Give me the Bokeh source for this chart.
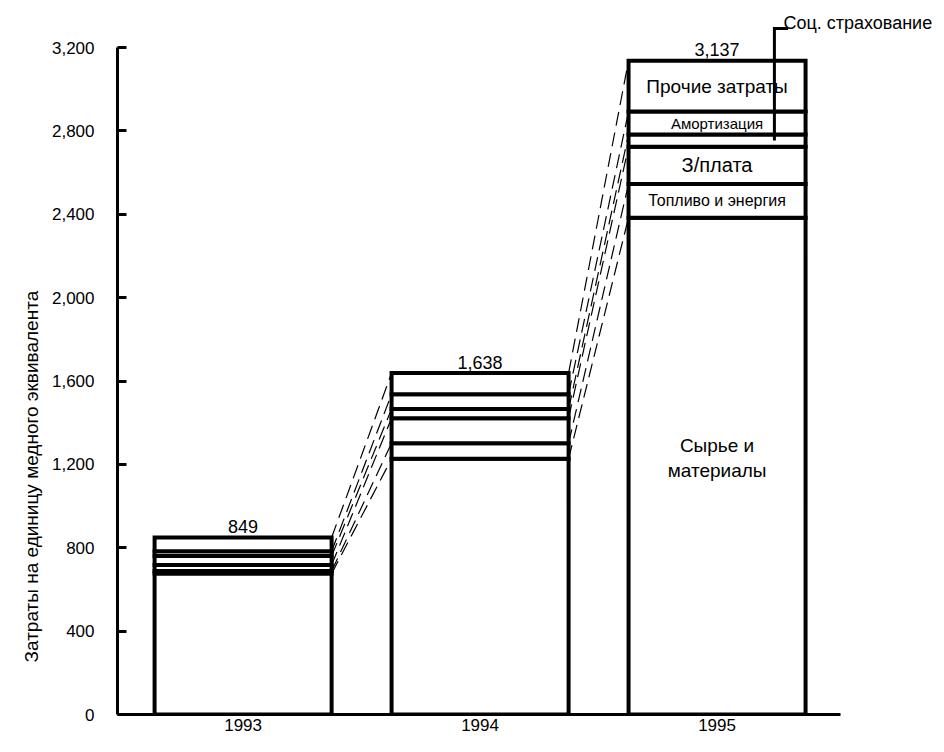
from bokeh.plotting import figure
from bokeh.models import FixedTicker, ColumnDataSource, Range1d, NumeralTickFormatter, Title
from bokeh.core.properties import value
from bokeh.embed import file_html
from bokeh.resources import INLINE

# ---- data ----
years = [1993, 1994, 1995]
year_labels = ["1993", "1994", "1995"]
keys = ["raw", "fuel", "wages", "social", "amort", "other"]
seg_names = ["Сырье и\nматериалы", "Топливо и энергия", "З/плата", "Соц. страхование", "Амортизация", "Прочие затраты"]
raw = [676, 1227, 2384]
fuel = [12, 75, 161]
wages = [29, 120, 179]
social = [43, 44, 59]
amort = [23, 71, 110]
other = [66, 101, 244]
y_ticks = [0, 400, 800, 1200, 1600, 2000, 2400, 2800, 3200]
y_title = "Затраты на единицу медного эквивалента"

FONT = "Liberation Sans"
BAR_W = 0.747
X0, X1 = 1992.47, 1995.926

series = [raw, fuel, wages, social, amort, other]
totals = [sum(s[i] for s in series) for i in range(len(years))]
cum = []
for i in range(len(years)):
    c = [0]
    for s in series:
        c.append(c[-1] + s[i])
    cum.append(c)

p = figure(width=936, height=736, output_backend="svg", toolbar_location=None,
           x_range=Range1d(X0, X1), y_range=Range1d(0, 3397),
           min_border_left=117, min_border_right=0, min_border_top=6, min_border_bottom=22)
p.background_fill_color = "white"
p.border_fill_color = "white"
p.outline_line_color = None
p.grid.visible = False

# dashed connectors between bars
x0s, y0s, x1s, y1s = [], [], [], []
for i in range(len(years) - 1):
    for k in range(1, len(keys) + 1):
        x0s.append(years[i] + BAR_W / 2)
        y0s.append(cum[i][k])
        x1s.append(years[i + 1] - BAR_W / 2)
        y1s.append(cum[i + 1][k])
p.segment(x0=x0s, y0=y0s, x1=x1s, y1=y1s, line_color="black", line_width=1.2, line_dash="14 7")

# stacked bars
src = ColumnDataSource(dict(year=years, raw=raw, fuel=fuel, wages=wages, social=social, amort=amort, other=other))
p.vbar_stack(keys, x="year", width=BAR_W, source=src, fill_color="white",
             line_color="black", line_width=4, line_join="miter")

# totals
p.text(x=years, y=totals, text=[f"{t:,}" for t in totals], text_align="center",
       text_baseline="alphabetic", y_offset=-11, text_font=value(FONT), text_font_size="18px",
       text_color="black")

# segment labels in the 1995 bar
last = len(years) - 1
lab_sizes = ["19px", "16px", "20px", "18px", "15px", "19px"]
lab_dy = [-8, 0, 0, 0, 0, 0]
lx, ly, lt, ls, lo = [], [], [], [], []
for k, name in enumerate(seg_names):
    if keys[k] == "social":
        continue
    lx.append(years[last])
    ly.append((cum[last][k] + cum[last][k + 1]) / 2)
    lt.append(name)
    ls.append(lab_sizes[k])
    lo.append(lab_dy[k])
lsrc = ColumnDataSource(dict(x=lx, y=ly, text=lt, size=ls, dy=lo))
p.text(x="x", y="y", text="text", text_font_size="size", y_offset="dy", source=lsrc,
       text_align="center", text_baseline="middle",
       text_font=value(FONT), text_color="black", text_line_height=1.2)

# callout for social insurance
soc_mid = (cum[last][3] + cum[last][4]) / 2
cx = years[last] + 0.242
top_y = 3292
p.line(x=[cx, cx, years[last] + 0.30], y=[soc_mid, top_y, top_y], line_color="black",
       line_width=3, line_join="miter")
p.text(x=[years[last] + 0.28], y=[3320], text=[seg_names[3]], text_align="left",
       text_baseline="alphabetic", text_font=value(FONT), text_font_size="18px", text_color="black")

# y-axis title (as a side title so it can be offset along the axis)
p.add_layout(Title(text=y_title, align="left", offset=52, text_font=FONT,
                   text_font_size="19px", text_font_style="normal", text_color="black",
                   standoff=13), "left")

# axes
ya = p.yaxis[0]
ya.ticker = FixedTicker(ticks=y_ticks)
ya.formatter = NumeralTickFormatter(format="0,0")
ya.bounds = (0, 3200)
ya.axis_line_width = 3
ya.major_tick_line_width = 3
ya.major_tick_in = 9
ya.major_tick_out = 0
ya.minor_tick_line_color = None
ya.major_label_standoff = 23
ya.major_label_text_font = FONT
ya.major_label_text_font_size = "17px"
ya.major_label_text_color = "black"

xa = p.xaxis[0]
xa.ticker = FixedTicker(ticks=years)
xa.major_label_overrides = {y: l for y, l in zip(years, year_labels)}
xa.bounds = (X0, 1995.52)
xa.axis_line_width = 3
xa.major_tick_line_color = None
xa.major_tick_in = 0
xa.major_tick_out = 0
xa.minor_tick_line_color = None
xa.major_label_standoff = 4
xa.major_label_text_font = FONT
xa.major_label_text_font_size = "17px"
xa.major_label_text_color = "black"

open("out.html", "w").write(file_html(p, INLINE))
